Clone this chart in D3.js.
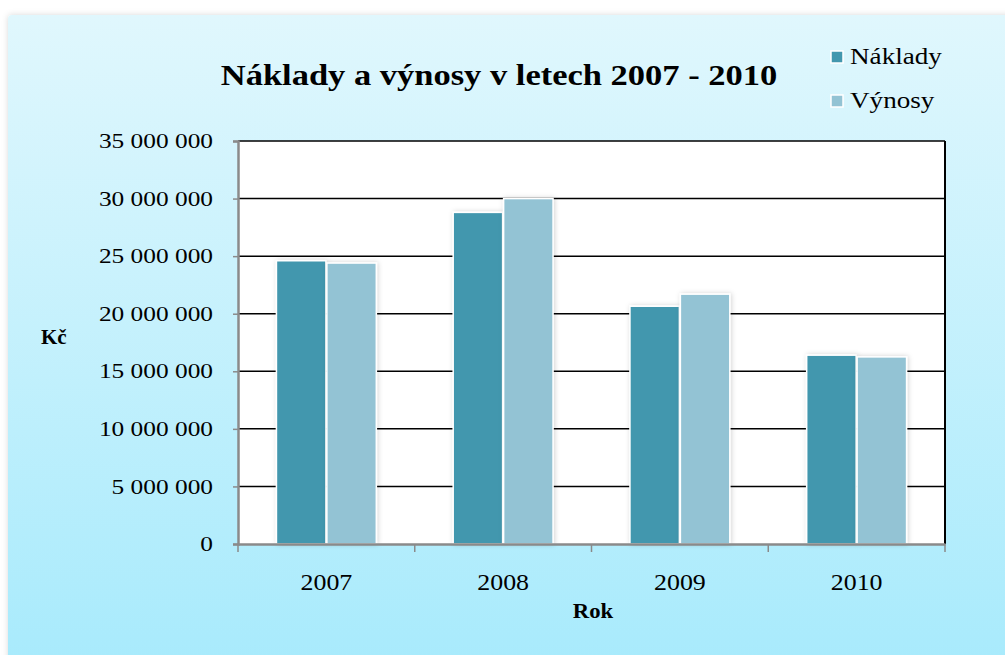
<!DOCTYPE html>
<html>
<head>
<meta charset="utf-8">
<script src="https://cdn.jsdelivr.net/npm/d3@7"></script>
<style>
  html, body { margin: 0; padding: 0; background: #fff; }
  svg { display: block; }
</style>
</head>
<body>
<script>
// data
const years = ["2007", "2008", "2009", "2010"];
const series = ["Náklady", "Výnosy"];
const naklady = [24600000, 28800000, 20650000, 16400000];
const vynosy = [24400000, 30000000, 21700000, 16250000];
const yTicks = [0, 5000000, 10000000, 15000000, 20000000, 25000000, 30000000, 35000000];

const width = 1005, height = 655;
const margin = { top: 141, right: 60, bottom: 111, left: 238 };
const colors = { "Náklady": "#4397ae", "Výnosy": "#93c3d4" };
const serif = "'Liberation Serif', 'Times New Roman', serif";
const sx = 1.18; // the source picture is stretched sideways

const svg = d3.select("body").append("svg")
  .attr("width", width)
  .attr("height", height);

const defs = svg.append("defs");
const grad = defs.append("linearGradient")
  .attr("id", "bg").attr("x1", 0).attr("y1", 0).attr("x2", 0).attr("y2", 1);
grad.append("stop").attr("offset", "0%").attr("stop-color", "#e0f7fd");
grad.append("stop").attr("offset", "100%").attr("stop-color", "#a6eafc");

const shadow = defs.append("filter").attr("id", "shadow")
  .attr("x", "-30%").attr("y", "-10%").attr("width", "160%").attr("height", "120%");
shadow.append("feDropShadow")
  .attr("dx", 1).attr("dy", 0).attr("stdDeviation", 2.5)
  .attr("flood-color", "#000").attr("flood-opacity", 0.18);

const panelShadow = defs.append("filter").attr("id", "pshadow")
  .attr("x", "-5%").attr("y", "-5%").attr("width", "110%").attr("height", "110%");
panelShadow.append("feDropShadow")
  .attr("dx", 0).attr("dy", 0).attr("stdDeviation", 3)
  .attr("flood-color", "#000").attr("flood-opacity", 0.15);

// chart panel
svg.append("rect")
  .attr("x", 8).attr("y", 15)
  .attr("width", width + 20).attr("height", height + 20)
  .attr("rx", 4)
  .attr("fill", "url(#bg)")
  .attr("filter", "url(#pshadow)");

const x0 = d3.scaleBand()
  .domain(years)
  .range([margin.left, width - margin.right]);

const groupW = x0.bandwidth() * 0.565;
const x1 = d3.scaleBand()
  .domain(series)
  .range([0, groupW])
  .paddingInner(0.02);

const y = d3.scaleLinear()
  .domain([0, 35000000])
  .range([height - margin.bottom, margin.top]);

const plotL = x0.range()[0], plotR = x0.range()[1];

// plot area
svg.append("rect")
  .attr("x", plotL).attr("y", y(35000000))
  .attr("width", plotR - plotL).attr("height", y(0) - y(35000000))
  .attr("fill", "#fff");

// gridlines
svg.append("g")
  .selectAll("line")
  .data(yTicks.filter(d => d > 0))
  .join("line")
  .attr("x1", plotL).attr("x2", plotR)
  .attr("y1", d => y(d)).attr("y2", d => y(d))
  .attr("stroke", "#000")
  .attr("stroke-width", 1.5);

// right border
svg.append("line")
  .attr("x1", plotR).attr("x2", plotR)
  .attr("y1", y(35000000)).attr("y2", y(0))
  .attr("stroke", "#000").attr("stroke-width", 2);

// bars
const rows = years.map((yr, i) => ({ year: yr, values: [naklady[i], vynosy[i]] }));

svg.append("g")
  .selectAll("g")
  .data(rows)
  .join("g")
  .attr("transform", d => `translate(${x0(d.year) + (x0.bandwidth() - groupW) / 2},0)`)
  .selectAll("rect")
  .data(d => series.map((s, j) => ({ key: s, value: d.values[j] })))
  .join("rect")
  .attr("x", d => x1(d.key))
  .attr("y", d => y(d.value))
  .attr("width", x1.bandwidth())
  .attr("height", d => y(0) - y(d.value))
  .attr("fill", d => colors[d.key])
  .attr("stroke", "#fff")
  .attr("stroke-width", 1.5)
  .attr("filter", "url(#shadow)");

// left axis
const yAxis = svg.append("g")
  .attr("transform", `translate(${plotL},0)`)
  .call(d3.axisLeft(y).tickValues(yTicks).tickSize(5).tickFormat(""));
yAxis.select(".domain").attr("stroke", "#8a8a8a").attr("stroke-width", 2.5);
yAxis.selectAll(".tick line").attr("stroke", "#8a8a8a").attr("stroke-width", 1.5);

const fmt = d => d3.format(",")(d).replace(/,/g, " ");
svg.append("g")
  .selectAll("text")
  .data(yTicks)
  .join("text")
  .attr("transform", d => `translate(213,${y(d)}) scale(${sx},1)`)
  .attr("dy", "0.33em")
  .attr("text-anchor", "end")
  .attr("font-family", serif)
  .attr("font-size", 21.5)
  .attr("fill", "#000")
  .text(fmt);

// bottom axis
const xAxis = svg.append("g")
  .attr("transform", `translate(0,${y(0)})`)
  .call(d3.axisBottom(x0).tickSize(0).tickFormat(""));
xAxis.select(".domain").attr("stroke", "#8a8a8a").attr("stroke-width", 2.5);
xAxis.selectAll(".tick").remove();
xAxis.selectAll("line.sep")
  .data(years.map(d => x0(d)).concat([plotR]))
  .join("line")
  .attr("class", "sep")
  .attr("x1", d => d).attr("x2", d => d)
  .attr("y1", 0).attr("y2", 8)
  .attr("stroke", "#8a8a8a").attr("stroke-width", 1.5);

svg.append("g")
  .selectAll("text")
  .data(years)
  .join("text")
  .attr("transform", d => `translate(${x0(d) + x0.bandwidth() / 2},590) scale(1.08,1)`)
  .attr("text-anchor", "middle")
  .attr("font-family", serif)
  .attr("font-size", 24)
  .attr("fill", "#000")
  .text(d => d);

// axis titles
svg.append("text")
  .attr("transform", `translate(593,618) scale(1.08,1)`)
  .attr("text-anchor", "middle")
  .attr("font-family", serif)
  .attr("font-weight", "bold")
  .attr("font-size", 21)
  .text("Rok");

svg.append("text")
  .attr("transform", `translate(41,344) scale(1.05,1)`)
  .attr("font-family", serif)
  .attr("font-weight", "bold")
  .attr("font-size", 20)
  .text("Kč");

// title
svg.append("text")
  .attr("transform", `translate(499,85) scale(1.15,1)`)
  .attr("text-anchor", "middle")
  .attr("font-family", serif)
  .attr("font-weight", "bold")
  .attr("font-size", 30)
  .text("Náklady a výnosy v letech 2007 - 2010");

// legend
const legend = svg.append("g")
  .selectAll("g")
  .data(series)
  .join("g")
  .attr("transform", (d, i) => `translate(831,${51 + i * 44})`);
legend.append("rect")
  .attr("width", 12).attr("height", 12)
  .attr("fill", d => colors[d])
  .attr("stroke", "#fff").attr("stroke-width", 1.5);
legend.append("text")
  .attr("transform", `translate(19,13) scale(${sx},1)`)
  .attr("font-family", serif)
  .attr("font-size", 23)
  .text(d => d);
</script>
</body>
</html>
